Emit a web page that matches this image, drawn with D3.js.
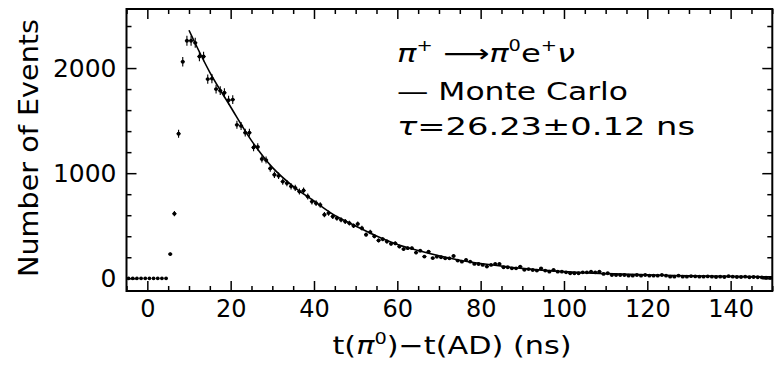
<!DOCTYPE html>
<html>
<head>
<meta charset="utf-8">
<script src="https://cdn.jsdelivr.net/npm/d3@7"></script>
<style>
  html, body { margin: 0; padding: 0; background: #fff; }
  svg { display: block; }
  text { font-family: "DejaVu Sans", sans-serif; fill: #000; }
</style>
</head>
<body>
<svg id="chart" width="779" height="374"></svg>
<script>
// ---- data ----
const binFirstCenter = -4.5;   // 1 ns bins, first centre
const binWidth = 1;
const counts = [
  0,0,0,0,0,0,0,0,0,0,
  230,615,1375,2060,2260,2260,2240,2110,2110,1895,
  1900,1800,1785,1765,1695,1700,1460,1450,1385,1385,
  1245,1250,1135,1125,1045,985,975,920,905,875,
  860,825,835,778,730,715,698,605,620,588,
  572,556,540,524,500,517,477,415,440,400,
  360,372,350,328,333,302,278,286,286,245,
  263,207,253,192,206,200,190,190,212,168,
  158,174,158,137,136,127,112,127,136,136,
  105,105,95,95,111,80,88,79,73,95,
  73,63,79,63,63,57,48,48,48,57,
  57,63,57,63,41,48,31,31,31,31,
  25,25,31,25,31,25,25,25,31,25,
  15,15,25,15,15,20,18,15,15,18,
  15,12,15,12,20,15,12,12,15,10,
  12,10,8,5,3
];
const mcTimes  = [10, 15, 20, 25, 30, 35, 40, 45, 50, 55, 60, 65, 70, 75, 80, 90, 100, 110, 120, 130, 140, 150];
const mcCounts = [2360, 1960, 1630, 1310, 1055, 875, 735, 598, 498, 402, 322, 264, 214, 172, 140, 94, 63, 44, 32, 24, 18, 14];
const xMajorTicks = [0, 20, 40, 60, 80, 100, 120, 140];
const yMajorTicks = [0, 1000, 2000];

// ---- layout ----
const svg = d3.select("#chart");
const X0 = 126.5, X1 = 772.3, Y0 = 291, Y1 = 9;
const x = d3.scaleLinear().domain([-5, 150]).range([X0, X1]);
const y = d3.scaleLinear().domain([-121, 2562]).range([Y0, Y1]);

const xMinor = d3.range(-5, 151, 5).filter(v => v % 20 !== 0);
const yMinor = d3.range(0, 2562, 200).filter(v => v % 1000 !== 0);

const g = svg.append("g");

function styleAxis(sel) {
  sel.select(".domain").remove();
  sel.selectAll(".tick line").attr("stroke", "#000").attr("stroke-width", 1.5);
}

// bottom
g.append("g").attr("transform", `translate(0,${Y0})`)
  .call(d3.axisBottom(x).tickValues(xMajorTicks).tickSize(-10).tickPadding(9).tickFormat(d3.format("d")))
  .call(styleAxis)
  .call(s => s.selectAll("text").attr("font-size", 24).attr("font-family", "DejaVu Sans"));
g.append("g").attr("transform", `translate(0,${Y0})`)
  .call(d3.axisBottom(x).tickValues(xMinor).tickSize(-5).tickFormat(""))
  .call(styleAxis);
// top
g.append("g").attr("transform", `translate(0,${Y1})`)
  .call(d3.axisTop(x).tickValues(xMajorTicks).tickSize(-10).tickFormat(""))
  .call(styleAxis);
g.append("g").attr("transform", `translate(0,${Y1})`)
  .call(d3.axisTop(x).tickValues(xMinor).tickSize(-5).tickFormat(""))
  .call(styleAxis);
// left
g.append("g").attr("transform", `translate(${X0},0)`)
  .call(d3.axisLeft(y).tickValues(yMajorTicks).tickSize(-10).tickPadding(10).tickFormat(d3.format("d")))
  .call(styleAxis)
  .call(s => s.selectAll("text").attr("font-size", 25).attr("font-family", "DejaVu Sans"));
g.append("g").attr("transform", `translate(${X0},0)`)
  .call(d3.axisLeft(y).tickValues(yMinor).tickSize(-5).tickFormat(""))
  .call(styleAxis);
// right
g.append("g").attr("transform", `translate(${X1},0)`)
  .call(d3.axisRight(y).tickValues(yMajorTicks).tickSize(-10).tickFormat(""))
  .call(styleAxis);
g.append("g").attr("transform", `translate(${X1},0)`)
  .call(d3.axisRight(y).tickValues(yMinor).tickSize(-5).tickFormat(""))
  .call(styleAxis);

// frame
g.append("rect").attr("x", X0).attr("y", Y1).attr("width", X1 - X0).attr("height", Y0 - Y1)
  .attr("fill", "none").attr("stroke", "#000").attr("stroke-width", 2);

// ---- data points with error bars ----
const pts = counts.map((c, i) => ({ t: binFirstCenter + i * binWidth, n: c }));
const pg = g.append("g");
pts.forEach(p => {
  const err = Math.sqrt(p.n);
  if (err > 0) {
    pg.append("line")
      .attr("x1", x(p.t)).attr("x2", x(p.t))
      .attr("y1", y(p.n - err)).attr("y2", y(p.n + err))
      .attr("stroke", "#000").attr("stroke-width", 1.1);
    pg.append("line")
      .attr("x1", x(p.t - binWidth / 2)).attr("x2", x(p.t + binWidth / 2))
      .attr("y1", y(p.n)).attr("y2", y(p.n))
      .attr("stroke", "#000").attr("stroke-width", 1.1);
  }
  pg.append("circle").attr("cx", x(p.t)).attr("cy", y(p.n)).attr("r", 1.9).attr("fill", "#000");
});

// ---- Monte Carlo curve ----
const line = d3.line().x((d, i) => x(mcTimes[i])).y(d => y(d)).curve(d3.curveCatmullRom);
g.append("path").attr("d", line(mcCounts))
  .attr("fill", "none").attr("stroke", "#000").attr("stroke-width", 1.6);

// ---- labels ----
svg.append("text")
  .attr("transform", "translate(38,148) rotate(-90)")
  .attr("text-anchor", "middle").attr("font-size", 27)
  .attr("textLength", 258).attr("lengthAdjust", "spacingAndGlyphs")
  .text("Number of Events");

const xt = svg.append("text").attr("x", 452).attr("y", 354)
  .attr("text-anchor", "middle").attr("font-size", 25)
  .attr("textLength", 239).attr("lengthAdjust", "spacingAndGlyphs");
xt.append("tspan").text("t(");
xt.append("tspan").attr("font-style", "italic").text("π");
xt.append("tspan").attr("font-size", 16).attr("dy", -10).text("0");
xt.append("tspan").attr("dy", 10).text(")\u2212t(AD) (ns)");

// annotation
const a1 = svg.append("text").attr("x", 397).attr("y", 62).attr("font-size", 25)
  .attr("textLength", 178).attr("lengthAdjust", "spacingAndGlyphs");
a1.append("tspan").attr("font-style", "italic").text("π");
a1.append("tspan").attr("font-size", 15).attr("dy", -11).text("+");
a1.append("tspan").attr("dy", 11).text(" \u27F6");
a1.append("tspan").attr("font-style", "italic").text("π");
a1.append("tspan").attr("font-size", 15).attr("dy", -11).text("0");
a1.append("tspan").attr("dy", 11).text("e");
a1.append("tspan").attr("font-size", 15).attr("dy", -11).text("+");
a1.append("tspan").attr("dy", 11).attr("font-style", "italic").text("ν");

svg.append("text").attr("x", 397).attr("y", 100).attr("font-size", 25)
  .attr("textLength", 231).attr("lengthAdjust", "spacingAndGlyphs")
  .text("\u2014 Monte Carlo");

const a3 = svg.append("text").attr("x", 397).attr("y", 135).attr("font-size", 25)
  .attr("textLength", 298).attr("lengthAdjust", "spacingAndGlyphs");
a3.append("tspan").attr("font-style", "italic").text("τ");
a3.append("tspan").text("=26.23±0.12 ns");
</script>
</body>
</html>
